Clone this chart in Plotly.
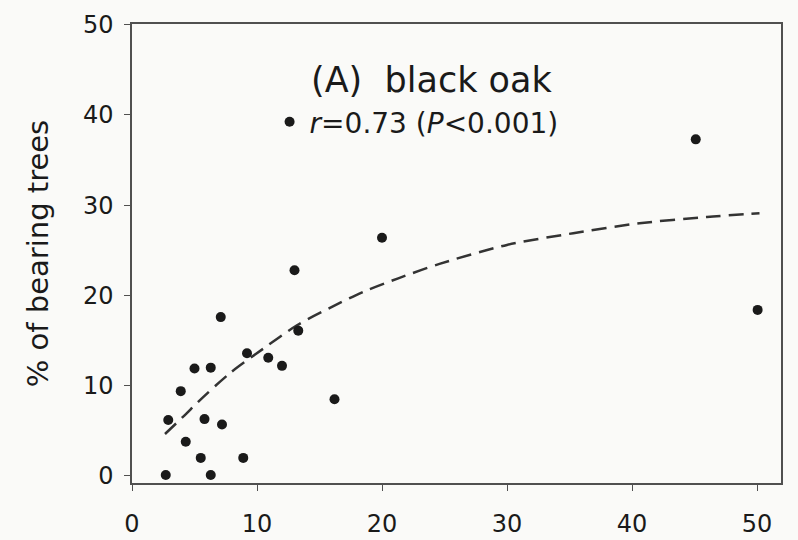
import plotly.graph_objects as go

# Observed points
pts_x = [7.1, 13.3, 9.2, 10.9, 12.0, 5.0, 6.3, 3.9, 16.2, 2.9, 5.8, 7.2, 4.3, 5.5, 8.9, 2.7, 6.3,
         13.0, 20.0, 45.1, 50.05]
pts_y = [17.6, 16.1, 13.6, 13.1, 12.2, 11.9, 12.0, 9.4, 8.5, 6.2, 6.3, 5.7, 3.8, 2.0, 2.0, 0.1, 0.1,
         22.8, 26.4, 37.3, 18.4]

# Fitted curve
fit_x = [2.64, 4.37, 5.17, 7.84, 10.5, 13.2, 15.8, 18.5, 21.3, 24.6, 30.0, 35.3, 40.6, 46.0, 50.2]
fit_y = [4.65, 6.94, 8.05, 11.4, 14.1, 16.7, 18.6, 20.4, 21.9, 23.5, 25.6, 26.9, 28.0, 28.7, 29.1]

x_ticks = [0, 10, 20, 30, 40, 50]
y_ticks = [0, 10, 20, 30, 40, 50]

title_text = "(A)\u00a0 black oak"
legend_text = "<i>r</i>=0.73 (<i>P</i><0.001)"
y_title = "% of bearing trees"

FONT = "DejaVu Sans"
INK = "#1a1a1a"
AXIS = "#505050"
BG = "#fafaf8"

fig = go.Figure()
fig.add_trace(go.Scatter(
    x=fit_x, y=fit_y, mode="lines", line=dict(color="#333333", width=2.5, dash="15px,8px", shape="spline", smoothing=0.8),
    showlegend=False, hoverinfo="skip"))
fig.add_trace(go.Scatter(
    x=pts_x, y=pts_y, mode="markers", name=legend_text,
    marker=dict(color=INK, size=10, line=dict(width=0)), showlegend=True))

fig.add_annotation(text=title_text, xref="paper", yref="paper", x=0.462, y=0.878,
                   xanchor="center", yanchor="middle", showarrow=False,
                   font=dict(family=FONT, size=35, color=INK))

fig.update_layout(
    width=798, height=540,
    margin=dict(l=132, r=17, t=24, b=57, autoexpand=False),
    paper_bgcolor=BG, plot_bgcolor=BG,
    font=dict(family=FONT, color=INK),
    legend=dict(x=0.212, y=0.7865, xanchor="left", yanchor="middle",
                bgcolor="rgba(0,0,0,0)", font=dict(family=FONT, size=28, color=INK),
                itemwidth=30),
)
fig.update_xaxes(range=[0, 51.92], tickvals=x_ticks, showgrid=False, zeroline=False,
                 showline=True, linecolor=AXIS, linewidth=1.5, mirror=True, automargin=False,
                 ticks="outside", ticklen=6, tickcolor=AXIS, tickwidth=1.2,
                 ticklabelstandoff=12, tickfont=dict(family=FONT, size=24, color=INK))
fig.update_yaxes(range=[-0.78, 50.08], tickvals=y_ticks, showgrid=False, zeroline=False,
                 showline=True, linecolor=AXIS, linewidth=1.5, mirror=True, automargin=False,
                 ticks="outside", ticklen=6, tickcolor=AXIS, tickwidth=1.2,
                 ticklabelstandoff=6, tickfont=dict(family=FONT, size=24, color=INK),
                 title=dict(text=y_title, font=dict(family=FONT, size=29, color=INK), standoff=26))

fig.write_html("out.html")
